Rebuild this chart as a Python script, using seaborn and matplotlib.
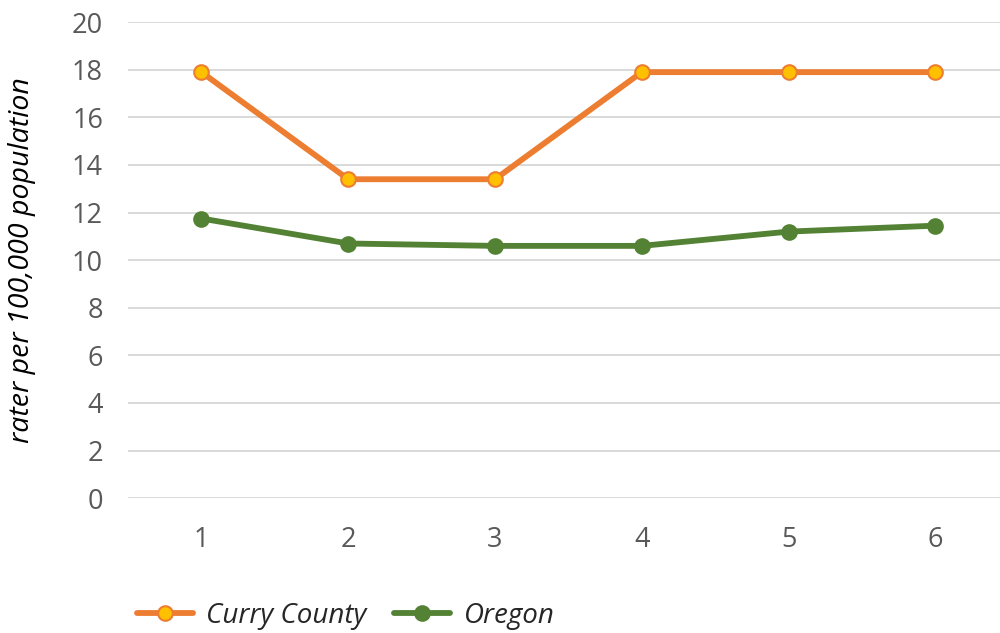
import pandas as pd
import matplotlib.pyplot as plt
import seaborn as sns

# data
periods = [1, 2, 3, 4, 5, 6]
curry = [17.9, 13.4, 13.4, 17.9, 17.9, 17.9]
oregon = [11.75, 10.7, 10.6, 10.6, 11.2, 11.45]
yticks = list(range(0, 21, 2))

sns.set_theme(style="white")
plt.rcParams['font.family'] = ['Open Sans', 'DejaVu Sans']

df = pd.DataFrame({'period': periods * 2,
                   'rate': curry + oregon,
                   'area': ['Curry County'] * 6 + ['Oregon'] * 6})

fig = plt.figure(figsize=(10, 6.33), dpi=100)
ax = fig.add_axes([0.128, 0.213, 0.872, 0.752])

for ax_y in yticks:
    ax.axhline(ax_y, color='#d9d9d9', lw=1.4, zorder=0)

sns.lineplot(data=df[df.area == 'Curry County'], x='period', y='rate', ax=ax,
             color='#ED7D31', lw=4.2, marker='o', markersize=10.5,
             markerfacecolor='#FFC000', markeredgecolor='#ED7D31', markeredgewidth=1.5,
             label='Curry County', zorder=3)
sns.lineplot(data=df[df.area == 'Oregon'], x='period', y='rate', ax=ax,
             color='#548235', lw=4.2, marker='o', markersize=10.5,
             markerfacecolor='#548235', markeredgecolor='#548235', markeredgewidth=1.5,
             label='Oregon', zorder=3)

ax.set_xlim(0.5, 6.44)
ax.set_ylim(0, 20)
ax.set_xticks(periods)
ax.set_yticks(yticks)
ax.tick_params(axis='both', length=0, labelsize=19.5, labelcolor='#595959')
ax.tick_params(axis='x', pad=20)
ax.tick_params(axis='y', pad=18)
ax.set_xlabel('')
ax.set_ylabel('rater per 100,000 population', fontsize=20.5, style='italic', color='black', labelpad=26)
for s in ax.spines.values():
    s.set_visible(False)

ax.legend_.remove()
h, l = ax.get_legend_handles_labels()
leg = fig.legend(h, l, loc='lower left', bbox_to_anchor=(0.112, -0.035), ncol=2, frameon=False,
                 prop={'size': 20, 'style': 'italic'}, handlelength=2, columnspacing=1.0,
                 handletextpad=0.5)

fig.savefig('out.png', dpi=100)
